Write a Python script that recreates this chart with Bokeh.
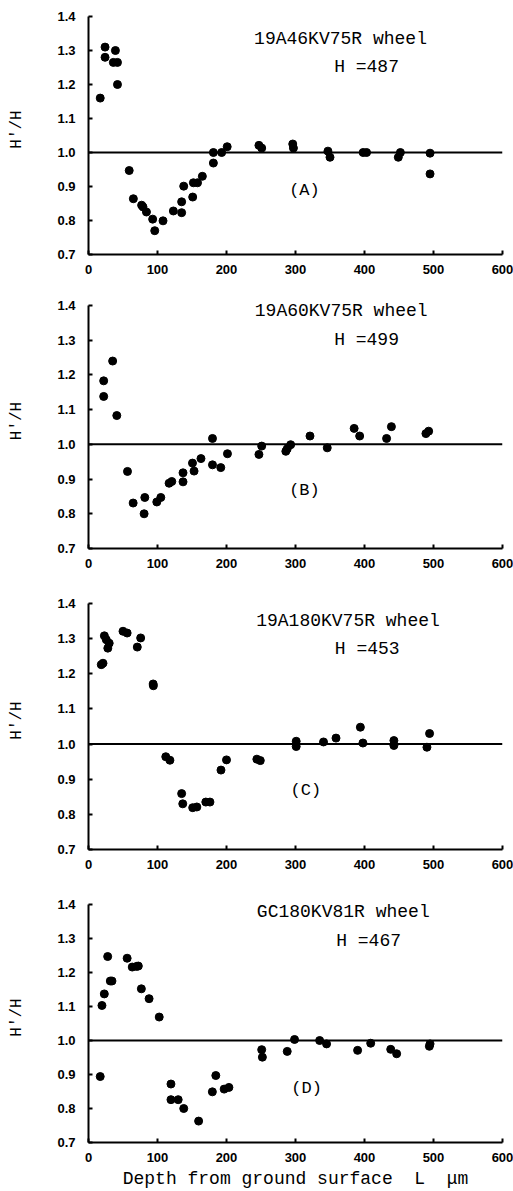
from bokeh.plotting import figure
from bokeh.layouts import column
from bokeh.models import Span, FixedTicker, Range1d, Label
from bokeh.embed import file_html
from bokeh.resources import INLINE

# ---- data (depth L in um, H'/H) ----
A_x = [17, 24, 24, 36, 42, 39, 42, 59, 65, 77, 79, 84, 93, 96, 108, 123, 135, 135, 138,
       151, 152, 158, 165, 181, 181, 193, 201, 247, 251, 296, 297, 347, 350, 398, 403,
       449, 452, 495, 495]
A_y = [1.16, 1.31, 1.28, 1.265, 1.265, 1.30, 1.20, 0.947, 0.864, 0.845, 0.84, 0.825, 0.804,
       0.77, 0.799, 0.828, 0.823, 0.855, 0.901, 0.869, 0.911, 0.911, 0.93, 0.969, 1.0, 1.0,
       1.017, 1.021, 1.013, 1.025, 1.013, 1.004, 0.986, 1.0, 1.0, 0.986, 1.0, 0.998, 0.937]

B_x = [22, 22, 35, 41, 56.5, 64.7, 81.6, 80.6, 99, 104.8, 116.8, 120.7, 137, 137, 150.7,
       153, 163, 179.7, 179.7, 191.7, 201.4, 247, 251, 286, 288, 293, 321, 346, 385, 393,
       432, 439, 489, 493]
B_y = [1.183, 1.138, 1.24, 1.083, 0.922, 0.831, 0.847, 0.80, 0.834, 0.847, 0.888, 0.893,
       0.892, 0.918, 0.946, 0.923, 0.959, 1.017, 0.941, 0.933, 0.973, 0.971, 0.995, 0.98,
       0.987, 0.999, 1.024, 0.99, 1.046, 1.024, 1.017, 1.051, 1.031, 1.038]

C_x = [18.5, 21, 23, 25.8, 30, 28, 50, 56, 70.7, 75.6, 93.7, 94, 112, 118, 135, 136.6, 151,
       157, 170, 176, 192, 200, 244, 249, 301, 301, 340.6, 358.7, 394, 397.7, 442.6, 442.6,
       490.5, 494.3]
C_y = [1.226, 1.23, 1.308, 1.297, 1.287, 1.273, 1.321, 1.316, 1.276, 1.302, 1.171, 1.166,
       0.964, 0.954, 0.859, 0.83, 0.819, 0.821, 0.835, 0.835, 0.926, 0.955, 0.957, 0.953,
       1.008, 0.993, 1.006, 1.017, 1.048, 1.003, 1.01, 0.996, 0.991, 1.03]

D_x = [17, 19.5, 22.9, 27.8, 31.6, 34, 56, 63.4, 69.7, 72.2, 76.6, 87.8, 102.5, 119.5, 119.5,
       130, 138, 159.6, 179.5, 184.5, 196.6, 203.5, 251, 252, 288, 298.6, 335, 345, 390, 409,
       438, 446.6, 494, 495]
D_y = [0.894, 1.103, 1.137, 1.247, 1.175, 1.175, 1.242, 1.216, 1.218, 1.219, 1.152, 1.123,
       1.069, 0.872, 0.826, 0.826, 0.80, 0.763, 0.849, 0.897, 0.857, 0.862, 0.973, 0.951,
       0.968, 1.003, 1.0, 0.99, 0.971, 0.992, 0.974, 0.961, 0.983, 0.99]

titles = ["19A46KV75R wheel", "19A60KV75R wheel", "19A180KV75R wheel", "GC180KV81R wheel"]
hards = ["H =487", "H =499", "H =453", "H =467"]
tags = ["(A)", "(B)", "(C)", "(D)"]
x_ticks = [0, 100, 200, 300, 400, 500, 600]
y_ticks = [0.7, 0.8, 0.9, 1.0, 1.1, 1.2, 1.3, 1.4]
x_label = "Depth from ground surface\u00a0\u00a0L\u00a0\u00a0\u03bcm"
y_label = "H'/H"

series = [(A_x, A_y), (B_x, B_y), (C_x, C_y), (D_x, D_y)]

# layout (top border, axis height 0.7..1.4, bottom border) and annotation placement
borders = [(16, 238, 30), (21, 243, 30), (25, 246, 30), (25, 238, 49)]
EXTRA = 12  # px of blank frame above the 1.4 end of the axis (room for titles)
title_pos = [(240, 1.334), (241, 1.384), (243, 1.35), (244, 1.377)]
hard_pos = [(356, 1.251), (356, 1.302), (357, 1.271), (359, 1.294)]
tag_pos = [(313, 0.888), (313, 0.867), (315, 0.869), (316, 0.859)]

MONO = "Liberation Mono"
figs = []
for i, (xs, ys) in enumerate(series):
    top, fh, bot = borders[i]
    y_end = 1.4 + 0.7 * EXTRA / fh
    p = figure(width=513, height=top + fh + bot, output_backend="svg",
               toolbar_location=None, x_range=Range1d(0, 600), y_range=Range1d(0.7, y_end),
               min_border_left=88, min_border_right=11, min_border_top=top - EXTRA,
               min_border_bottom=bot)
    p.grid.visible = False
    p.outline_line_color = None
    p.background_fill_color = "white"
    p.border_fill_color = "white"

    for ax in (p.xaxis[0], p.yaxis[0]):
        ax.axis_line_width = 2
        ax.axis_line_color = "black"
        ax.major_tick_in = 4
        ax.major_tick_out = 0
        ax.major_tick_line_width = 2
        ax.minor_tick_line_color = None
        ax.major_label_text_font = "Liberation Sans"
        ax.major_label_text_font_style = "bold"
        ax.major_label_text_font_size = "13px"
        ax.major_label_text_color = "black"
    p.xaxis.ticker = FixedTicker(ticks=x_ticks)
    p.yaxis.ticker = FixedTicker(ticks=y_ticks)
    p.yaxis.bounds = (0.7, 1.4)
    p.yaxis.major_label_overrides = {t: f"{t:.1f}" for t in y_ticks}
    p.xaxis.major_label_standoff = 10
    p.yaxis.major_label_standoff = 13

    p.yaxis.axis_label = y_label
    p.yaxis.axis_label_text_font = MONO
    p.yaxis.axis_label_text_font_style = "normal"
    p.yaxis.axis_label_text_font_size = "16px"
    p.yaxis.axis_label_text_color = "black"
    p.yaxis.axis_label_standoff = 28
    if i == 3:
        p.xaxis.axis_label = x_label
        p.xaxis.axis_label_text_font = MONO
        p.xaxis.axis_label_text_font_style = "normal"
        p.xaxis.axis_label_text_font_size = "18px"
        p.xaxis.axis_label_text_color = "black"
        p.xaxis.axis_label_standoff = 4

    p.add_layout(Span(location=1.0, dimension="width", line_color="black", line_width=2))
    p.scatter(xs, ys, size=8, color="black", marker="circle")

    p.add_layout(Label(x=title_pos[i][0], y=title_pos[i][1], text=titles[i],
                       text_font=MONO, text_font_size="18px", text_baseline="middle",
                       text_align="left", text_color="black"))
    p.add_layout(Label(x=hard_pos[i][0], y=hard_pos[i][1], text=hards[i],
                       text_font=MONO, text_font_size="18px", text_baseline="middle",
                       text_align="left", text_color="black"))
    p.add_layout(Label(x=tag_pos[i][0], y=tag_pos[i][1], text=tags[i],
                       text_font=MONO, text_font_size="17px", text_baseline="middle",
                       text_align="center", text_color="black"))
    figs.append(p)

layout = column(*figs, spacing=0)
open("out.html", "w").write(file_html(layout, INLINE))
